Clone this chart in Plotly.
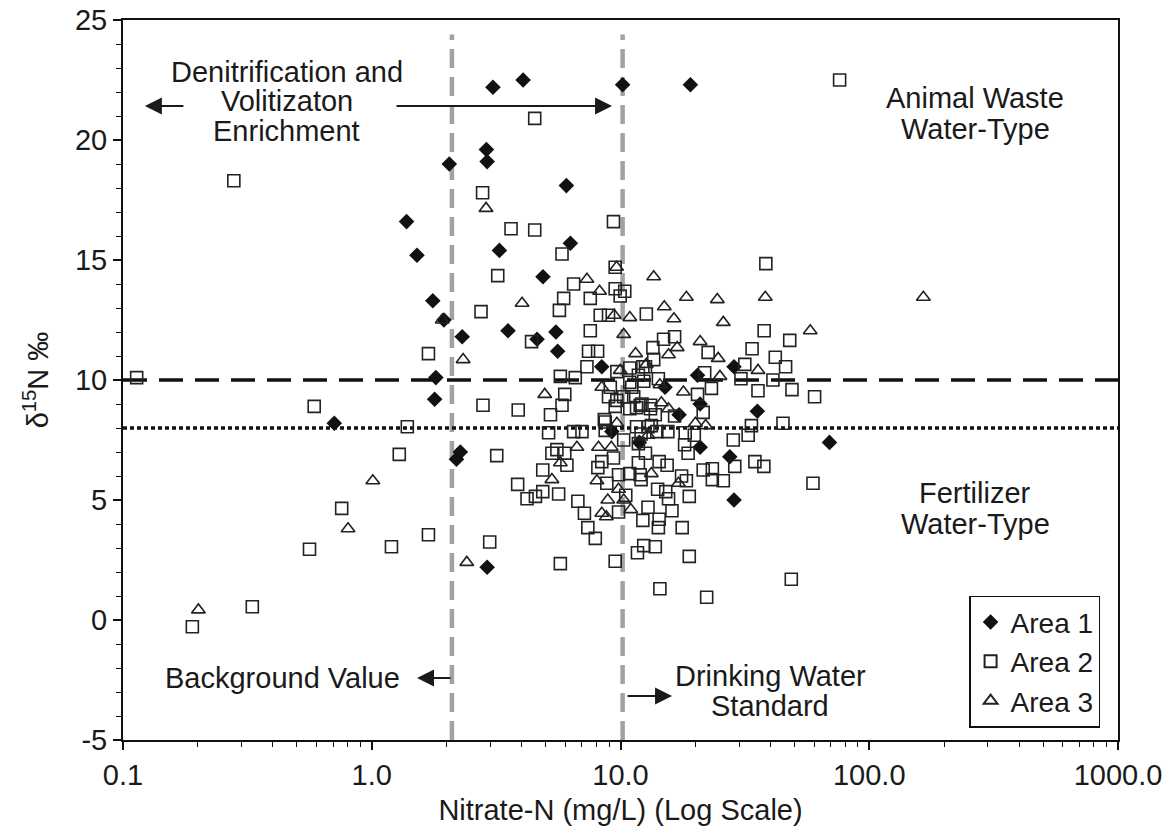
import plotly.graph_objects as go

# ---------------- data ----------------
area1_x = [3.07, 4.06, 10.2, 19.1, 2.89, 2.91, 2.05, 6.06, 1.38, 6.29, 3.26, 1.52, 4.88, 1.76,
           1.95, 2.31, 3.53, 4.62, 5.50, 5.59, 8.41, 1.81, 1.79, 0.707, 2.19, 2.27, 2.91, 9.23,
           28.6, 20.4, 15.1, 20.9, 35.5, 17.2, 11.9, 20.9, 27.5, 28.6, 69.2]
area1_y = [22.2, 22.5, 22.3, 22.3, 19.6, 19.1, 19.0, 18.1, 16.6, 15.7, 15.4, 15.2, 14.3, 13.3,
           12.5, 11.8, 12.05, 11.7, 12.0, 11.2, 10.55, 10.1, 9.2, 8.2, 6.7, 7.0, 2.2, 7.85,
           10.55, 10.2, 9.7, 9.0, 8.7, 8.55, 7.4, 7.2, 6.8, 5.0, 7.4]

area2_x = [4.52, 76.0, 0.279, 2.79, 9.37, 3.63, 4.52, 5.82, 3.21, 6.48, 9.52, 9.52, 38.4, 5.91,
           7.56, 10.4, 9.97, 5.68, 2.75, 8.29, 8.95, 4.39, 7.56, 7.44, 8.09, 7.33, 5.73, 6.58,
           5.97, 5.82, 2.80, 3.88, 5.23, 8.61, 5.14, 6.48, 7.00, 8.68, 10.3, 3.18, 5.30, 5.55,
           5.97, 8.41, 9.37, 8.11, 6.09, 4.87, 8.81, 9.82, 10.9, 3.86, 4.87, 4.55, 4.21, 5.64,
           6.74, 10.5, 7.16, 9.82, 7.39, 7.92, 2.98, 5.73, 9.52, 11.7, 1.69, 0.1135, 0.587, 1.39,
           1.29, 0.757, 1.69, 0.562, 1.20, 0.331, 0.190,
           12.7, 37.8, 14.9, 16.5, 47.9, 13.5, 33.8, 22.5, 41.9, 13.6, 12.3, 46.1, 31.6, 11.8,
           21.8, 14.2, 30.5, 41.0, 10.9, 23.2, 35.7, 48.9, 60.3, 20.4, 10.3, 12.2, 11.6, 13.2,
           21.5, 13.8, 16.5, 33.6, 45.0, 14.0, 15.5, 18.2, 12.1, 28.4, 32.6, 13.3, 19.8, 18.1,
           18.7, 12.6, 11.8, 14.3, 15.4, 34.7, 37.7, 28.8, 21.5, 23.4, 23.4, 25.9, 12.0, 12.1,
           17.6, 18.4, 14.1, 15.2, 15.6, 18.9, 59.4, 12.9, 16.1, 12.3, 14.3, 14.2, 17.7, 12.4,
           13.8, 18.9, 48.6, 14.4, 22.2,
           9.67, 10.9, 12.6, 9.10, 11.1, 12.4, 8.95, 9.67, 11.3, 12.0, 9.52, 10.9, 13.2, 8.68,
           11.6, 12.9, 11.8]
area2_y = [20.9, 22.5, 18.3, 17.8, 16.6, 16.3, 16.25, 15.25, 14.35, 14.0, 14.7, 13.8, 14.85, 13.4,
           13.4, 13.7, 13.5, 12.9, 12.85, 12.7, 12.7, 11.6, 12.05, 11.2, 11.2, 10.55, 10.15, 10.1,
           9.4, 8.95, 8.95, 8.75, 8.55, 8.35, 7.8, 7.85, 7.85, 7.9, 7.5, 6.85, 6.95, 7.1,
           6.95, 6.6, 6.75, 6.35, 6.45, 6.25, 5.7, 6.05, 6.1, 5.65, 5.35, 5.15, 5.05, 5.25,
           4.95, 5.2, 4.45, 4.5, 3.85, 3.4, 3.25, 2.35, 2.45, 2.8, 11.1, 10.1, 8.9, 8.05,
           6.9, 4.65, 3.55, 2.95, 3.05, 0.55, -0.28,
           12.75, 12.05, 11.7, 11.8, 11.65, 11.35, 11.3, 11.15, 10.95, 10.85, 10.55, 10.55, 10.65, 10.2,
           10.3, 10.05, 10.05, 10.0, 9.9, 9.65, 9.55, 9.6, 9.3, 9.4, 9.3, 9.0, 8.85, 8.8,
           8.65, 8.55, 8.5, 8.1, 8.2, 7.85, 7.85, 7.8, 7.75, 7.5, 7.7, 8.1, 7.7, 7.3,
           6.95, 6.95, 6.55, 6.6, 6.45, 6.6, 6.4, 6.4, 6.25, 6.3, 5.85, 5.8, 6.05, 5.85,
           6.0, 5.8, 5.45, 5.35, 5.05, 5.15, 5.7, 4.7, 4.55, 4.15, 4.2, 3.85, 3.85, 3.1,
           3.05, 2.65, 1.7, 1.3, 0.95,
           10.35, 10.5, 10.55, 9.7, 9.7, 9.95, 9.3, 9.15, 9.3, 8.95, 8.9, 8.8, 8.95, 8.25,
           8.05, 8.05, 7.35]

area3_x = [2.88, 7.33, 8.24, 9.64, 4.02, 1.92, 9.43, 10.9, 10.3, 11.5, 2.33, 9.97, 8.41, 4.96,
           6.68, 8.16, 9.18, 5.73, 5.30, 8.04, 9.82, 8.89, 10.3, 8.41, 8.77, 11.0, 2.41, 1.01,
           0.803, 0.201, 13.6, 18.4, 24.5, 38.2, 15.0, 16.4, 25.9, 57.9, 20.9, 16.9, 15.6, 24.7,
           12.7, 35.7, 25.1, 14.4, 17.9, 14.6, 15.6, 20.0, 22.0, 12.9, 13.3, 17.1, 165.0, 9.67]
area3_y = [17.15, 14.2, 13.7, 14.7, 13.2, 12.5, 12.7, 12.6, 11.9, 11.1, 10.85, 10.4, 9.7, 9.4,
           7.2, 7.2, 7.2, 6.55, 5.85, 5.8, 5.45, 5.0, 5.0, 4.45, 4.3, 4.6, 2.4, 5.8,
           3.8, 0.42, 14.3, 13.45, 13.35, 13.45, 13.05, 12.55, 12.4, 12.05, 11.6, 11.35, 11.05, 10.9,
           10.65, 10.4, 10.15, 9.8, 9.5, 9.05, 8.8, 8.2, 8.1, 7.7, 6.1, 5.7, 13.45, 8.2]

series_names = ["Area 1", "Area 2", "Area 3"]

# reference lines
animal_waste_threshold = 10.0     # d15N
fertilizer_threshold = 8.0        # d15N
background_nitrate = 2.1          # mg/L
drinking_water_standard = 10.2    # mg/L

x_tickvals = [0.1, 1, 10, 100, 1000]
x_ticktext = ["0.1", "1.0", "10.0", "100.0", "1000.0"]
y_tickvals = [-5, 0, 5, 10, 15, 20, 25]
y_ticktext = ["-5", "0", "5", "10", "15", "20", "25"]

FONT = "Liberation Sans, Arial, Helvetica, sans-serif"
INK = "#1a1a1a"
FS = 29

fig = go.Figure()

# vertical gray dashed lines
for xv in [background_nitrate, drinking_water_standard]:
    fig.add_trace(go.Scatter(x=[xv, xv], y=[-5, 24.4], mode="lines",
                             line=dict(color="#9ea3a8", width=4.5, dash="19px,9px"),
                             showlegend=False, hoverinfo="skip"))
# horizontal lines
fig.add_trace(go.Scatter(x=[0.1, 1000], y=[animal_waste_threshold] * 2, mode="lines",
                         line=dict(color="#111", width=3.5, dash="24px,12px"),
                         showlegend=False, hoverinfo="skip"))
fig.add_trace(go.Scatter(x=[0.1, 1000], y=[fertilizer_threshold] * 2, mode="lines",
                         line=dict(color="#111", width=3.5, dash="4px,3px"),
                         showlegend=False, hoverinfo="skip"))

fig.add_trace(go.Scatter(x=area1_x, y=area1_y, mode="markers", name=series_names[0],
                         marker=dict(symbol="diamond", size=12, color="#111",
                                     line=dict(width=0))))
fig.add_trace(go.Scatter(x=area2_x, y=area2_y, mode="markers", name=series_names[1],
                         marker=dict(symbol="square-open", size=12, color="#222",
                                     line=dict(width=1.6, color="#222"))))
fig.add_trace(go.Scatter(x=area3_x, y=area3_y, mode="markers", name=series_names[2],
                         marker=dict(symbol="triangle-up-open", size=12, color="#222",
                                     line=dict(width=1.6, color="#222"))))

# text lines (one annotation per line to match the tight line spacing)
text_lines = [
    (0.1648, 0.9278, "Denitrification and"),
    (0.1648, 0.8875, "Volitizaton"),
    (0.1648, 0.8458, "Enrichment"),
    (0.8563, 0.8917, "Animal Waste"),
    (0.8563, 0.8486, "Water-Type"),
    (0.8563, 0.3431, "Fertilizer"),
    (0.8563, 0.3000, "Water-Type"),
    (0.1608, 0.0861, "Background Value"),
    (0.6503, 0.0889, "Drinking Water"),
    (0.6503, 0.0472, "Standard"),
]
for (xp, yp, t) in text_lines:
    fig.add_annotation(xref="paper", yref="paper", x=xp, y=yp, text=t,
                       showarrow=False, xanchor="center", yanchor="middle",
                       font=dict(family=FONT, size=FS, color=INK))

arrows = [
    (0.022, 0.8806, 40, 0),     # left arrow (denitrification)
    (0.4915, 0.8806, -217, 0),  # right arrow (denitrification)
    (0.2955, 0.0861, 35, 0),    # background value arrow
    (0.5518, 0.0611, -46, 0),   # drinking water arrow
]
for (xh, yh, ax, ay) in arrows:
    fig.add_annotation(xref="paper", yref="paper", x=xh, y=yh, ax=ax, ay=ay,
                       axref="pixel", ayref="pixel", text="", showarrow=True,
                       arrowhead=2, arrowsize=1.7, arrowwidth=2, arrowcolor=INK)

fig.update_layout(
    width=1171, height=836,
    margin=dict(l=123, r=53, t=20, b=96, autoexpand=False),
    paper_bgcolor="white", plot_bgcolor="white",
    font=dict(family=FONT, size=FS, color=INK),
    legend=dict(x=0.982, y=0.017, xanchor="right", yanchor="bottom",
                bgcolor="white", bordercolor="#111", borderwidth=1.5,
                font=dict(family=FONT, size=28, color=INK),
                itemsizing="constant", tracegroupgap=0, itemwidth=30),
    showlegend=True,
)
fig.update_xaxes(type="log", range=[-1, 3], tickvals=x_tickvals, ticktext=x_ticktext,
                 showgrid=False, zeroline=False, showline=True, linecolor="#111", linewidth=2,
                 mirror=True, ticks="outside", ticklen=8, tickwidth=1.5, tickcolor="#111",
                 minor=dict(ticks="outside", ticklen=5, tickwidth=1.2, tickcolor="#111",
                            dtick="D1", showgrid=False),
                 tickfont=dict(family=FONT, size=FS, color=INK),
                 title=dict(text="Nitrate-N (mg/L) (Log Scale)", standoff=10,
                            font=dict(family=FONT, size=FS, color=INK)))
fig.update_yaxes(range=[-5, 25], tickvals=y_tickvals, ticktext=y_ticktext,
                 showgrid=False, zeroline=False, showline=True, linecolor="#111", linewidth=2,
                 mirror=True, ticks="outside", ticklen=8, tickwidth=1.5, tickcolor="#111",
                 minor=dict(ticks="outside", ticklen=5, tickwidth=1.2, tickcolor="#111",
                            dtick=1, showgrid=False),
                 tickfont=dict(family=FONT, size=FS, color=INK),
                 title=dict(text="δ<sup>15</sup>N ‰", standoff=18,
                            font=dict(family=FONT, size=FS, color=INK)))

fig.write_html("out.html")
